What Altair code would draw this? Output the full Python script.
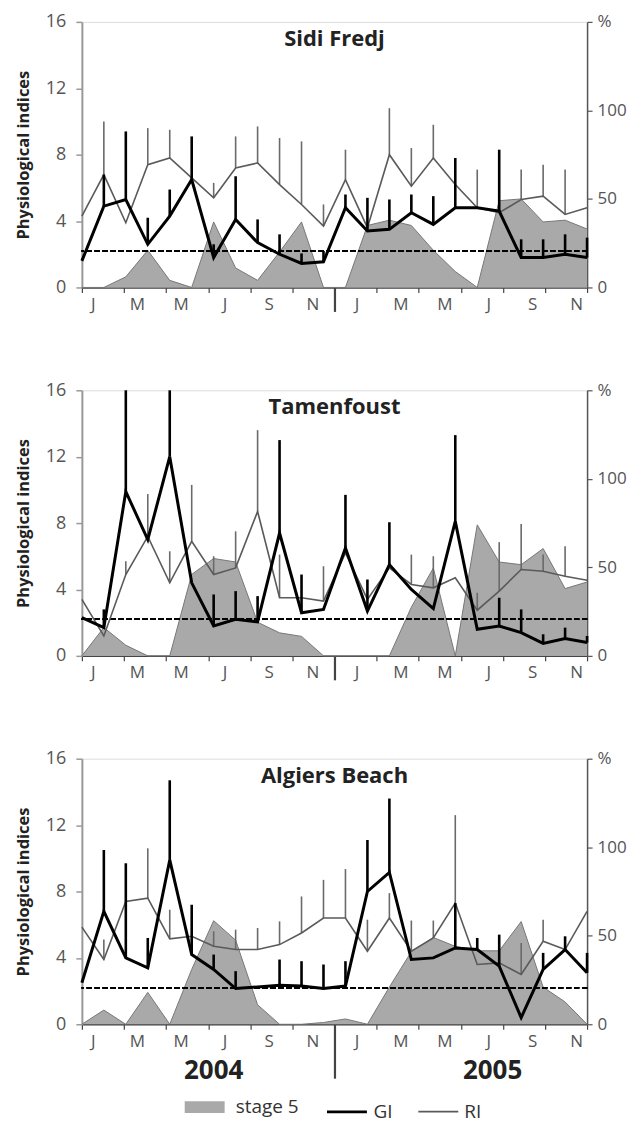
import altair as alt
import pandas as pd

# ---------------- data ----------------
month_labels = ['J', 'M', 'M', 'J', 'S', 'N']
years = ['2004', '2005']
series_names = ['stage 5', 'GI', 'RI']
sites = ['Sidi Fredj', 'Tamenfoust', 'Algiers Beach']
threshold = 2.2

sidi_gi = [1.6, 4.9, 5.3, 2.6, 4.3, 6.5, 1.8, 4.1, 2.7, 2.0, 1.45, 1.55,
           4.8, 3.4, 3.5, 4.5, 3.8, 4.8, 4.8, 4.6, 1.8, 1.8, 2.0, 1.8]
sidi_gi_top = [None, 6.8, 9.4, 4.2, 5.9, 9.1, 2.6, 6.7, 4.1, 3.2, 2.05, 2.2,
               5.6, 5.4, 5.3, 5.6, 5.5, 7.8, None, 8.3, 2.9, 2.9, 3.2, 3.0]
sidi_ri = [4.3, 6.8, 3.9, 7.4, 7.8, 6.6, 5.4, 7.2, 7.5, 6.2, 5.0, 3.7,
           6.5, 3.6, 8.0, 6.1, 7.8, 6.2, 4.8, 4.5, 5.3, 5.5, 4.4, 4.8]
sidi_ri_top = [None, 10.0, None, 9.6, 9.5, None, 6.3, 9.1, 9.7, 9.0, 8.8, 5.0,
               8.3, None, 10.8, 8.4, 9.8, None, 7.1, None, 7.1, 7.4, 7.1, None]
sidi_stage5 = [0, 0, 6, 21, 4, 0, 37, 11, 4, 20, 37, 0,
               0, 35, 38, 35, 21, 9, 0, 49, 50, 37, 38, 33]

tam_gi = [2.3, 1.7, 9.9, 7.0, 12.0, 4.4, 1.8, 2.2, 2.05, 7.4, 2.6, 2.8,
          6.5, 2.7, 5.5, 4.0, 2.85, 8.1, 1.6, 1.8, 1.4, 0.75, 1.05, 0.8]
tam_gi_top = [None, 2.8, 16.0, None, 16.0, None, 3.7, 3.9, 3.6, 13.0, 4.9, None,
              9.7, 4.6, 8.05, None, None, 13.3, None, 3.5, 2.8, 1.3, 1.7, 1.2]
tam_ri = [3.4, 1.2, 4.9, 7.2, 4.4, 6.9, 4.9, 5.3, 8.7, 3.5, 3.5, 3.3,
          6.2, 3.4, 5.3, 4.3, 4.1, 4.7, 2.75, 3.9, 5.2, 5.1, 4.8, 4.55]
tam_ri_top = [None, None, 5.7, 9.75, 6.3, 10.3, 6.0, 7.5, 13.6, 6.1, None, 5.4,
              None, None, None, 6.1, 6.0, None, 3.8, 6.85, 7.95, 6.1, 6.6, None]
tam_stage5 = [0, 16, 6, 0, 0, 46, 55, 53, 19, 13, 11, 0,
              0, 0, 0, 27.5, 49.6, 0, 74, 53, 51.5, 60.6, 38, 41.7]

alg_gi = [2.5, 6.8, 4.0, 3.4, 9.9, 4.2, 3.3, 2.15, 2.25, 2.35, 2.3, 2.15,
          2.3, 8.0, 9.15, 3.9, 4.0, 4.6, 4.5, 3.5, 0.4, 3.3, 4.5, 3.1]
alg_gi_top = [None, 10.5, 9.7, 5.2, 14.7, 7.2, 4.2, 3.2, None, 3.9, 3.8, 3.6,
              3.8, 11.1, 13.6, None, None, 7.3, 5.2, 5.4, None, 4.3, 5.3, 4.3]
alg_ri = [5.85, 3.9, 7.4, 7.6, 5.15, 5.3, 4.7, 4.5, 4.5, 4.8, 5.5, 6.4,
          6.4, 4.4, 6.4, 4.4, 5.2, 7.3, 3.6, 3.7, 3.0, 5.0, 4.5, 6.8]
alg_ri_top = [None, 5.1, None, 10.6, 6.9, None, 5.6, 5.7, 5.8, 6.2, 7.7, 8.7,
              9.35, 6.3, 7.9, 6.25, 6.25, 12.6, None, None, 4.9, 6.3, None, None]
alg_stage5 = [0, 8, 0, 18, 0, 31, 58.5, 47.5, 11, 0, 0, 1,
              3, 0, 21, 41, 49, 44, 41.5, 41.5, 58, 21, 12.6, 0]

# ---------------- layout / style ----------------
W, H = 506, 266
N = 24
FONT = 'Open Sans'
tick_vals = [k * (N - 1) / 12 for k in range(13)]
label_vals = [2 * k + 0.5 for k in range(12)]
divider = tick_vals[6]
year_pos = [6.0, 18.7]

xscale = alt.Scale(domain=[0, N - 1], nice=False, zero=False)
yscale = alt.Scale(domain=[0, 16], nice=False, zero=True)
rscale = alt.Scale(domain=[0, 150], nice=False, zero=True)

left_axis = alt.Axis(orient='left', values=[0, 4, 8, 12, 16], title='Physiological indices',
                     titleFont=FONT, titleFontSize=16.5, titleFontWeight='bold', titleColor='#222',
                     titlePadding=10, labelFont=FONT, labelFontSize=18, labelColor='#555',
                     labelPadding=10, tickSize=6, tickColor='#999', tickWidth=1.5,
                     domainColor='#999', domainWidth=2, grid=False, minExtent=40, maxExtent=40)
right_axis = alt.Axis(orient='right', values=[0, 50, 100, 150],
                      labelExpr="datum.value == 150 ? '%' : datum.label", title=None,
                      labelFont=FONT, labelFontSize=17, labelColor='#555', labelPadding=5,
                      tickSize=5, tickColor='#555', tickWidth=1.2, domainColor='#555',
                      domainWidth=1.5, grid=False)
label_expr = f"{month_labels!r}[floor(datum.value / 2) % {len(month_labels)}]"
label_axis = alt.Axis(orient='bottom', values=label_vals, labelExpr=label_expr, ticks=False,
                      tickSize=0, domain=False, grid=False, title=None, labelFlush=False,
                      labelOverlap=False, labelPadding=9, labelFont=FONT, labelFontSize=17,
                      labelColor='#555')


def tick_axis(div_len):
    return alt.Axis(orient='bottom', values=tick_vals, labels=False, grid=False, title=None,
                    domainColor='#444', domainWidth=1.5, tickColor='#444',
                    tickSize={'condition': {'test': f'datum.value == {divider}', 'value': div_len},
                              'value': 5},
                    tickWidth={'condition': {'test': f'datum.value == {divider}', 'value': 2.2},
                               'value': 1.2})


def err_df(vals, tops):
    rows = [{'i': i, 'v': v, 't': t} for i, (v, t) in enumerate(zip(vals, tops)) if t is not None]
    return pd.DataFrame(rows)


def panel(name, gi, gi_top, ri, ri_top, s5, last=False):
    df = pd.DataFrame({'i': list(range(N)), 'gi': gi, 'ri': ri, 's5': s5})
    xl = alt.X('i:Q', scale=xscale, axis=label_axis)

    area = alt.Chart(df).mark_area(color='#a9a9a9', opacity=1,
                                   line={'color': '#777', 'strokeWidth': 1}).encode(
        x=alt.X('i:Q', scale=xscale, axis=tick_axis(54 if last else 24)),
        y=alt.Y('s5:Q', scale=rscale, axis=right_axis),
    )

    dashed = alt.Chart(df).mark_rule(color='black', strokeDash=[5, 3], strokeWidth=1.5).encode(
        y=alt.Y(datum=threshold, type='quantitative', scale=yscale, axis=left_axis))
    ri_err = alt.Chart(err_df(ri, ri_top)).mark_rule(color='#6a6a6a', strokeWidth=1.6).encode(
        x=xl, y=alt.Y('v:Q', scale=yscale, axis=left_axis), y2='t:Q')
    ri_line = alt.Chart(df).mark_line(color='#5a5a5a', strokeWidth=1.6).encode(
        x=xl, y=alt.Y('ri:Q', scale=yscale, axis=left_axis))
    gi_err = alt.Chart(err_df(gi, gi_top)).mark_rule(color='black', strokeWidth=2.6).encode(
        x=xl, y=alt.Y('v:Q', scale=yscale, axis=left_axis), y2='t:Q')
    gi_line = alt.Chart(df).mark_line(color='black', strokeWidth=3).encode(
        x=xl, y=alt.Y('gi:Q', scale=yscale, axis=left_axis))
    title = alt.Chart(pd.DataFrame({'site': [name]})).mark_text(
        font=FONT, fontSize=22, fontWeight='bold', color='#222', baseline='alphabetic').encode(
        text='site:N', x=alt.value(W / 2), y=alt.value(24))

    layers = [dashed, ri_err, ri_line, gi_err, gi_line, title]
    if last:
        ydf = pd.DataFrame({'year': years, 'pos': year_pos})
        ytext = alt.Chart(ydf).mark_text(font=FONT, fontSize=26, fontWeight='bold',
                                         color='#222', baseline='alphabetic').encode(
            text='year:N', x=alt.X('pos:Q', scale=xscale, axis=label_axis),
            y=alt.value(H + 55))
        leg = alt.Legend(orient='none', legendX=97, legendY=1061, direction='horizontal',
                         title=None, symbolType='stroke', symbolSize=1600, labelFont=FONT,
                         labelFontSize=19, labelColor='#333', labelOffset=5,
                         columnPadding=21, padding=0)
        ldf = pd.DataFrame({'series': series_names})
        legend_layer = alt.Chart(ldf).mark_line().encode(
            stroke=alt.Stroke('series:N', scale=alt.Scale(domain=series_names,
                              range=['#a9a9a9', '#000000', '#5a5a5a']), legend=leg),
            strokeWidth=alt.StrokeWidth('series:N', scale=alt.Scale(type='ordinal', domain=series_names,
                                        range=[12, 3, 1.6]), legend=leg),
        ).transform_filter('false')
        layers += [ytext, legend_layer]

    left = alt.layer(*layers)
    return alt.layer(area, left).resolve_scale(y='independent').resolve_axis(x='independent').properties(
        width=W, height=H)


p1 = panel(sites[0], sidi_gi, sidi_gi_top, sidi_ri, sidi_ri_top, sidi_stage5)
p2 = panel(sites[1], tam_gi, tam_gi_top, tam_ri, tam_ri_top, tam_stage5)
p3 = panel(sites[2], alg_gi, alg_gi_top, alg_ri, alg_ri_top, alg_stage5, last=True)

chart = alt.vconcat(p1, p2, p3, spacing=67).properties(
    padding={'left': 7, 'top': 3, 'right': 0, 'bottom': 0}
).configure_view(stroke=None).configure(font=FONT)

chart.save('out.html', embed_options={'renderer': 'svg', 'actions': False})
